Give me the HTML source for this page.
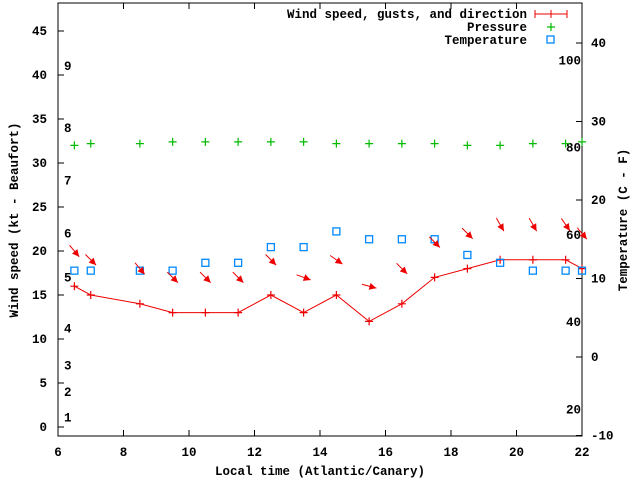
<!DOCTYPE html>
<html><head><meta charset="utf-8"><style>
html,body{margin:0;padding:0;background:#fff;}
svg{display:block;font-family:"Liberation Mono",monospace;font-weight:bold;font-size:12.5px;}
</style></head><body>
<svg id="chart" width="640" height="480" xmlns="http://www.w3.org/2000/svg">
<rect x="0" y="0" width="640" height="480" fill="#fff"/>
<g id="axes"></g>
<g id="marks"></g>
<text x="320" y="475" text-anchor="middle">Local time (Atlantic/Canary)</text>
<text transform="translate(18,220) rotate(-90)" text-anchor="middle">Wind speed (kt - Beaufort)</text>
<text transform="translate(627,220) rotate(-90)" text-anchor="middle">Temperature (C - F)</text>
<g>
<text x="527" y="18" text-anchor="end">Wind speed, gusts, and direction</text>
<line x1="535" y1="14" x2="567" y2="14" stroke="#e00" stroke-width="1"/>
<line x1="535" y1="10" x2="535" y2="18" stroke="#e00"/><line x1="567" y1="10" x2="567" y2="18" stroke="#e00"/>
<line x1="551" y1="10" x2="551" y2="18" stroke="#e00"/>
<text x="527" y="31" text-anchor="end">Pressure</text>
<path d="M547 27h8M551 23v8" stroke="#0b0" stroke-width="1.2"/>
<text x="527" y="44" text-anchor="end">Temperature</text>
<rect x="547" y="36" width="7" height="7" fill="none" stroke="#08f" stroke-width="1.3"/>
</g>
</svg>
<script>
const times=[6.5,7,8.5,9.5,10.5,11.5,12.5,13.5,14.5,15.5,16.5,17.5,18.5,19.5,20.5,21.5,22];
const windKt=[16,15,14,13,13,13,15,13,15,12,14,17,18,19,19,19,18];
const pressure=[32.0,32.2,32.2,32.4,32.4,32.4,32.4,32.4,32.2,32.2,32.2,32.2,32.0,32.0,32.2,32.2,32.4];
const tempC=[11,11,11,11,12,12,14,14,16,15,15,15,13,12,11,11,11];
const windDirDeg=[320,315,320,315,315,315,315,290,305,285,315,315,315,330,330,325,320];
const xTicks=[6,8,10,12,14,16,18,20,22];
const yTicks=[0,5,10,15,20,25,30,35,40,45];
const y2Ticks=[-10,0,10,20,30,40];
const beaufortLabels=["1","2","3","4","5","6","7","8","9"];
const beaufortKt=[1,2,3,4,5.5,6,7,8,9];
const beaufortY=[1.1,4.0,7.0,11.2,17.0,22.0,28.0,34.0,41.0];
const fahrLabels=["20","40","60","80","100"];
const fahrF=[20,40,60,80,100];

const L=58,R=582,T=3,B=436;
const X=v=>L+(v-6)*(R-L)/16;
const Y=v=>427-v*8.8;
const Y2=v=>357-v*7.85;
const NS="http://www.w3.org/2000/svg";
function mk(tag,attrs,parent,txt){const e=document.createElementNS(NS,tag);for(const k in attrs)e.setAttribute(k,attrs[k]);if(txt!==undefined)e.textContent=txt;parent.appendChild(e);return e;}
const ax=document.getElementById('axes'),mg=document.getElementById('marks');
let f=mk('path',{d:`M${L} ${T}H${R}V${B}H${L}Z`,fill:'none',stroke:'#000','stroke-width':1},ax);


xTicks.forEach(t=>{
 let g=mk('g',{},ax);
 
 
 mk('path',{d:`M${X(t)} ${B}v-6M${X(t)} ${T}v6`,stroke:'#000'},g);
 mk('text',{x:X(t),y:B+20,'text-anchor':'middle'},g,String(t));
});
yTicks.forEach(t=>{
 let g=mk('g',{},ax);
 
 
 mk('path',{d:`M${L} ${Y(t)}h6`,stroke:'#000'},g);
 mk('text',{x:L-11,y:Y(t)+4,'text-anchor':'end'},g,String(t));
});
y2Ticks.forEach(t=>{
 let g=mk('g',{},ax);
 
 
 mk('path',{d:`M${R} ${Y2(t)}h-6`,stroke:'#000'},g);
 mk('text',{x:R+9,y:Y2(t)+4,'text-anchor':'start'},g,String(t));
});
beaufortLabels.forEach((s,i)=>{
 let t=mk('text',{x:64,y:Y(beaufortY[i])+4},ax,s);
 
 
});
fahrLabels.forEach((s,i)=>{
 let c=(fahrF[i]-32)*5/9;
 let t=mk('text',{x:R-1,y:Y2(c)+4,'text-anchor':'end'},ax,s);
 
 
});
// wind line
let pts=times.map((t,i)=>`${X(t)},${Y(windKt[i])}`).join(' ');
let wl=mk('polyline',{points:pts,fill:'none',stroke:'#e00','stroke-width':1},mg);


times.forEach((t,i)=>{
 let p=mk('path',{d:`M${X(t)-4} ${Y(windKt[i])}h8M${X(t)} ${Y(windKt[i])-4}v8`,stroke:'#e00','stroke-width':1.2},mg);
 
 
});
// pressure
times.forEach((t,i)=>{
 let p=mk('path',{d:`M${X(t)-4} ${Y(pressure[i])}h8M${X(t)} ${Y(pressure[i])-4}v8`,stroke:'#0b0','stroke-width':1.2},mg);
 
 
});
// temperature
times.forEach((t,i)=>{
 let r=mk('rect',{x:X(t)-3.5,y:Y2(tempC[i])-3.5,width:7,height:7,fill:'none',stroke:'#08f','stroke-width':1.3},mg);
 
 
});
// direction arrows
times.forEach((t,i)=>{
 let cx=X(t),cy=Y(windKt[i]+4);
 let a=(windDirDeg[i]-180)*Math.PI/180; // direction wind blows to (screen)
 let dx=Math.sin(a),dy=-Math.cos(a);
 let len=15;
 let x1=cx-dx*len/2,y1=cy-dy*len/2,x2=cx+dx*len/2,y2=cy+dy*len/2;
 let g=mk('g',{},mg);
 
 
 mk('line',{x1:x1,y1:y1,x2:x2,y2:y2,stroke:'#e00','stroke-width':1},g);
 let hx=-dx*7,hy=-dy*7,px=-dy*3.5,py=dx*3.5;
 mk('polygon',{points:`${x2},${y2} ${x2+hx+px},${y2+hy+py} ${x2+hx-px},${y2+hy-py}`,fill:'#e00'},g);
});
</script>
</body></html>
